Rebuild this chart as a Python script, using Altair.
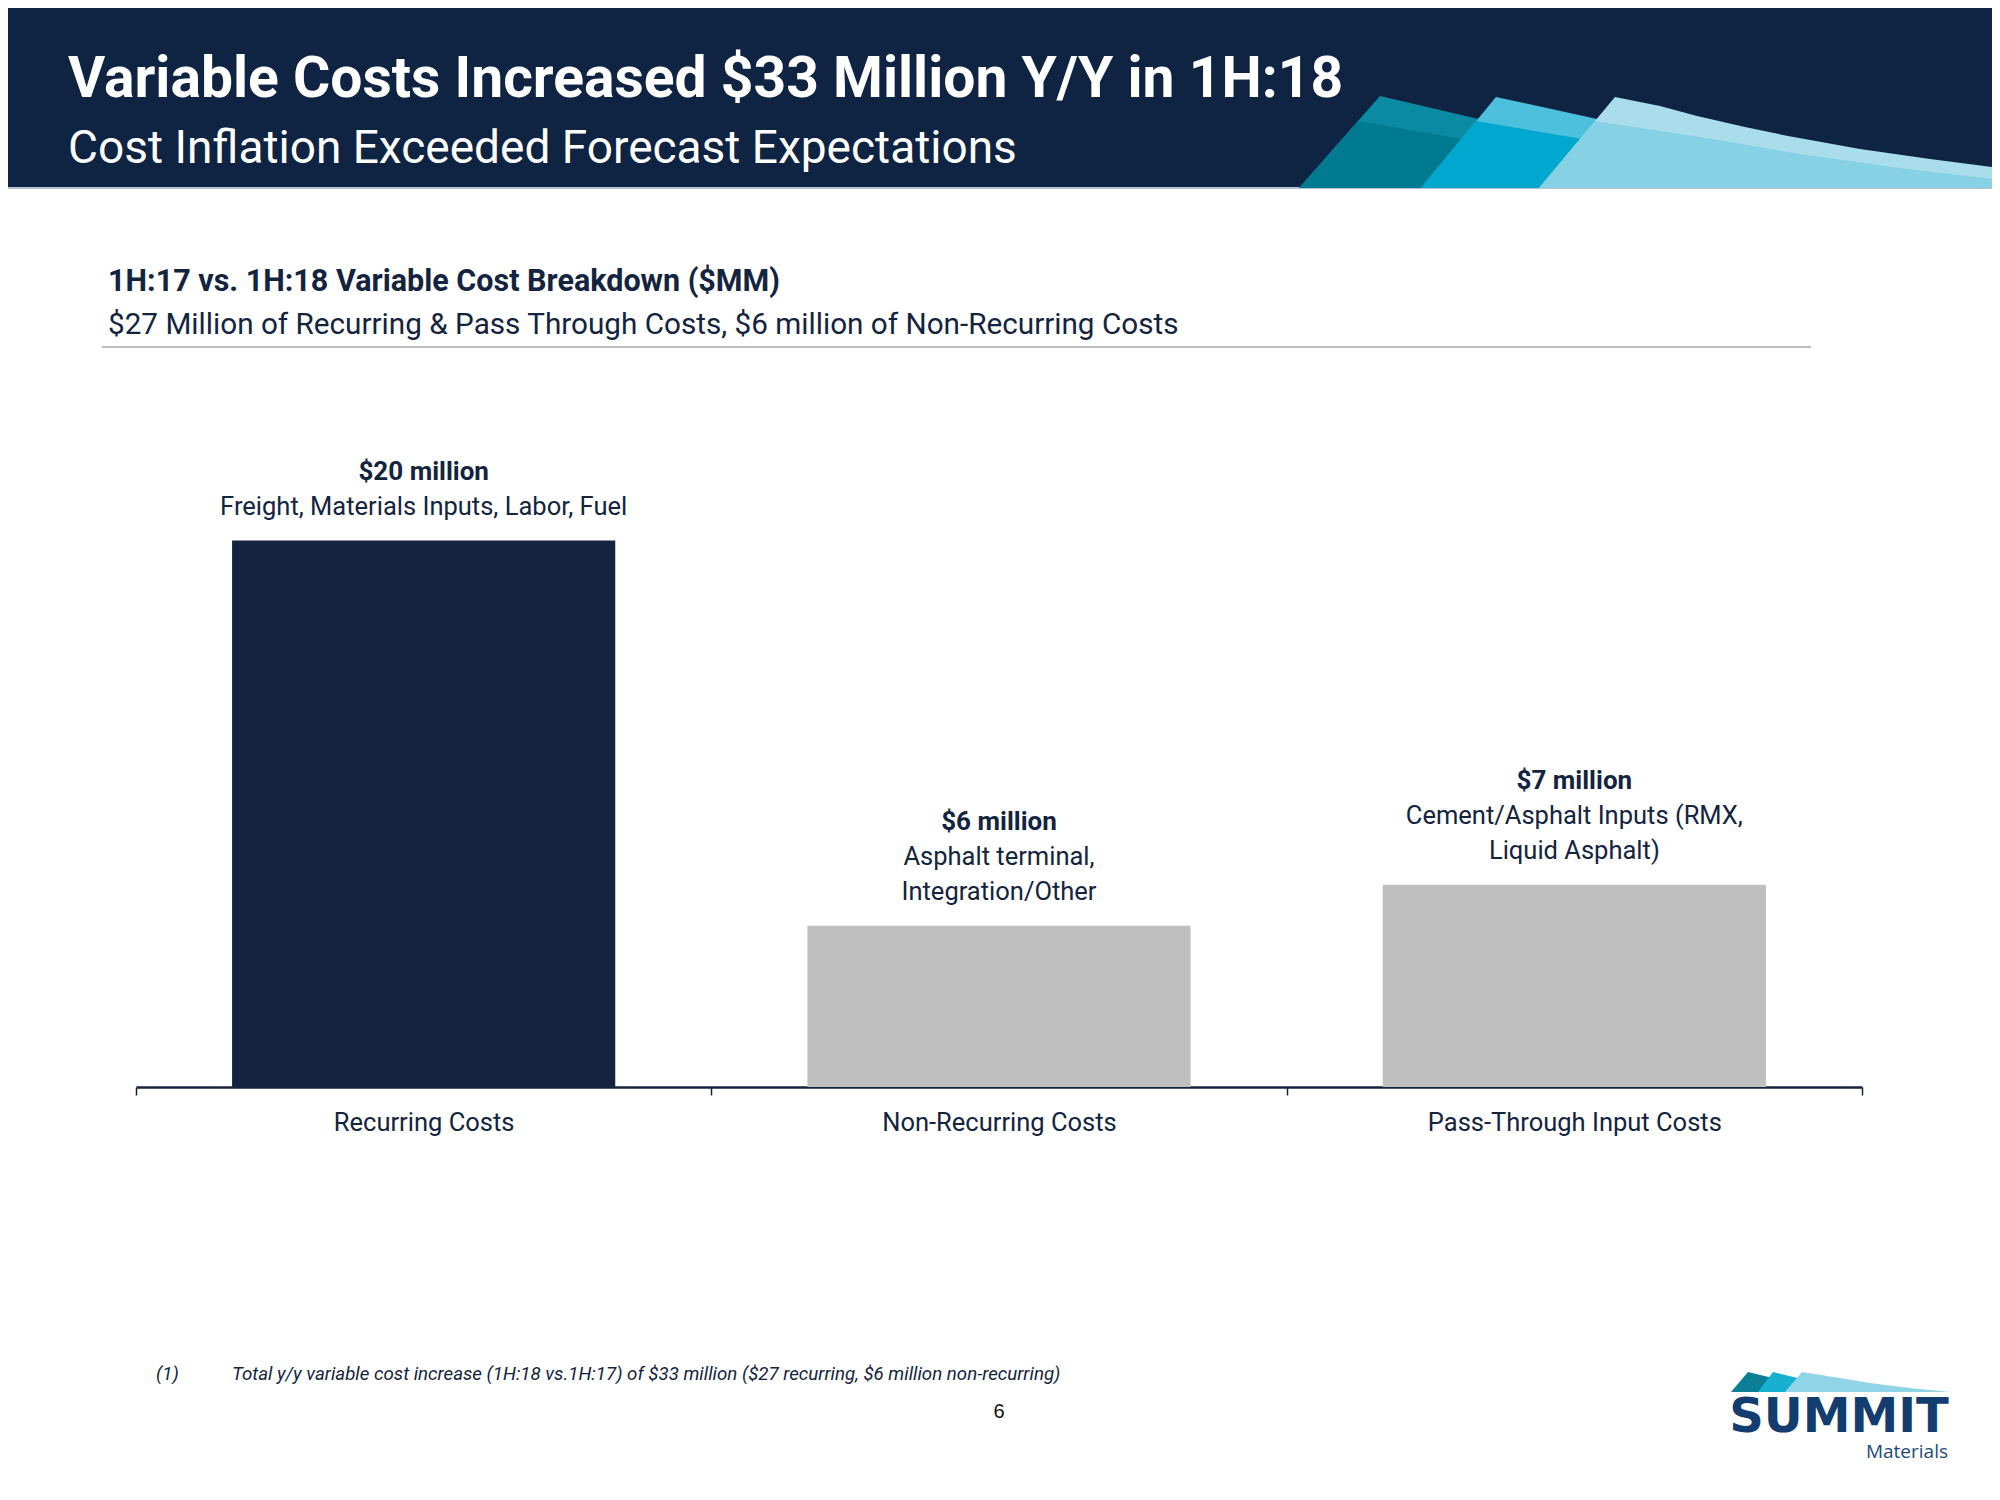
import altair as alt
import pandas as pd

# ---------------- data ----------------
categories = ["Recurring Costs", "Non-Recurring Costs", "Pass-Through Input Costs"]
values = [20.0, 5.9, 7.4]
value_heads = ["$20 million", "$6 million", "$7 million"]
value_descs = [
    ["Freight, Materials Inputs, Labor, Fuel"],
    ["Asphalt terminal,", "Integration/Other"],
    ["Cement/Asphalt Inputs (RMX,", "Liquid Asphalt)"],
]
title_text = "Variable Costs Increased $33 Million Y/Y in 1H:18"
subtitle_text = "Cost Inflation Exceeded Forecast Expectations"
heading_text = "1H:17 vs. 1H:18 Variable Cost Breakdown ($MM)"
heading2_text = "$27 Million of Recurring & Pass Through Costs, $6 million of Non-Recurring Costs"
footnote_mark = "(1)"
footnote_text = "Total y/y variable cost increase (1H:18 vs.1H:17) of $33 million ($27 recurring, $6 million non-recurring)"
page_number = "6"

# ---------------- styles ----------------
NAVY = "#14243f"
HEADER = "#0f2343"
GRAY = "#bfbfbf"
FONT = "Liberation Sans Narrow, Arial Narrow, Roboto, sans-serif"

# plot area placement on page
OX, OY = 136, 404        # page coords of plot origin
W, H = 1726, 683


def px(X):
    return X - OX


def py(Y):
    return Y - OY


bars_df = pd.DataFrame({"cat": categories, "val": values})
one = pd.DataFrame({"d": [0]})

rows = []
for c, v, hd, ds in zip(categories, values, value_heads, value_descs):
    lines = [(hd, True)] + [(d, False) for d in ds]
    n = len(lines)
    for i, (t, b) in enumerate(lines):
        rows.append({"cat": c, "val": v, "text": t, "k": n - 1 - i, "bold": b})
labels_df = pd.DataFrame(rows)

xenc = alt.X(
    "cat:N",
    sort=categories,
    scale=alt.Scale(paddingInner=0, paddingOuter=0),
    axis=alt.Axis(
        title=None, labelAngle=0, labelFont=FONT, labelFontSize=25.5, labelLimit=0,
        labelColor=NAVY, domainColor=NAVY, domainWidth=2.5, tickColor=NAVY,
        tickSize=8, tickWidth=1.5, tickBand="extent", labelPadding=15,
        grid=False,
    ),
)
yenc = alt.Y("val:Q", scale=alt.Scale(domain=[0, 25], nice=False), axis=None)

bars = alt.Chart(bars_df).mark_bar(width=alt.RelativeBandSize(0.666)).encode(
    x=xenc, y=yenc,
    color=alt.Color("cat:N", scale=alt.Scale(domain=categories, range=[NAVY, GRAY, GRAY]), legend=None),
)

label_layers = []
for k in range(3):
    for b in (True, False):
        sub = labels_df[(labels_df.k == k) & (labels_df.bold == b)]
        if len(sub) == 0:
            continue
        label_layers.append(
            alt.Chart(sub).mark_text(
                font=FONT, fontSize=26 if b else 25.5, fontWeight="bold" if b else "normal",
                color=NAVY, baseline="alphabetic", align="center", dy=-26 - 35 * k,
            ).encode(x=alt.X("cat:N", sort=categories), y=alt.Y("val:Q"), text="text:N")
        )


def area(points, color, y2):
    df = pd.DataFrame({"x": [px(p[0]) for p in points], "y": [py(p[1]) for p in points]})
    df["y2"] = py(y2)
    return alt.Chart(df).mark_area(color=color, interpolate="linear").encode(
        x=alt.X("x:Q", scale=None, axis=None),
        y=alt.Y("y:Q", scale=None, axis=None),
        y2="y2:Q",
    )


header = alt.Chart(one).mark_rect(color=HEADER).encode(
    x=alt.value(px(-10)), x2=alt.value(px(2010)), y=alt.value(py(-10)), y2=alt.value(py(188))
)
header_line = alt.Chart(one).mark_rule(color="#b8c2d6", strokeWidth=2).encode(
    x=alt.value(px(0)), x2=alt.value(px(2010)), y=alt.value(py(188))
)

sails = [
    area([(1299, 188), (1380, 96), (1500, 124)], "#0a8aa3", 188),
    area([(1299, 188), (1358, 121), (1480, 142)], "#007a91", 188),
    area([(1421, 188), (1496, 97), (1620, 124)], "#4cc0dc", 188),
    area([(1421, 188), (1476, 121), (1600, 142)], "#00a8cf", 188),
    area([(1539, 188), (1615, 97), (1660, 106), (1697, 116), (1745, 127), (1788, 136),
          (1860, 149), (1930, 159), (2000, 168)], "#a9ddeb", 188),
    area([(1539, 188), (1595, 121), (1700, 137), (1800, 154), (1900, 168), (2000, 180)], "#87d1e4", 188),
]

logo_sails = [
    area([(1731, 1392), (1748, 1372), (1785, 1381)], "#0b7f96", 1392),
    area([(1758, 1392), (1773, 1372), (1810, 1381)], "#17b0d1", 1392),
    area([(1785, 1392), (1802, 1372), (1840, 1378), (1870, 1383), (1910, 1388), (1950, 1392)], "#90d4e7", 1392),
]


def txt(s, X, Y, size, color, weight="normal", align="left", font=FONT, style="normal"):
    return alt.Chart(one).mark_text(
        text=s, font=font, fontSize=size, fontWeight=weight, color=color,
        align=align, baseline="alphabetic", fontStyle=style,
    ).encode(x=alt.value(px(X)), y=alt.value(py(Y)))


texts = [
    txt(title_text, 68, 97, 57, "white", "bold"),
    txt(subtitle_text, 68, 163, 46, "white"),
    txt(heading_text, 108, 291, 30.5, NAVY, "bold"),
    txt(heading2_text, 108, 334, 29.7, NAVY),
    txt(footnote_mark, 156, 1380, 18.7, NAVY, style="italic"),
    txt(footnote_text, 232, 1380, 18.7, NAVY, style="italic"),
    txt(page_number, 999, 1418, 20, "#111111", align="center", font="Liberation Sans, Arial, sans-serif"),
    txt("SUMMIT", 1839, 1432, 48, "#123d6e", "bold", align="center", font="DejaVu Sans, sans-serif"),
    txt("Materials", 1948, 1458, 19, "#1b4a7a", align="right", font="Open Sans, sans-serif"),
]

rule = alt.Chart(one).mark_rule(color="#a6a6a6", strokeWidth=1.5).encode(
    x=alt.value(px(102)), x2=alt.value(px(1811)), y=alt.value(py(347))
)

chart = alt.layer(
    header, header_line, *sails, *texts, rule, bars, *label_layers, *logo_sails
).properties(
    width=W, height=H,
    autosize=alt.AutoSizeParams(type="none"),
    padding={"left": OX - 8, "top": OY - 8, "right": 1984 - (OX - 8) - W, "bottom": 1484 - (OY - 8) - H},
    background="white",
).configure_view(stroke=None)

chart.save("out.html", embed_options={"renderer": "svg", "actions": False})
